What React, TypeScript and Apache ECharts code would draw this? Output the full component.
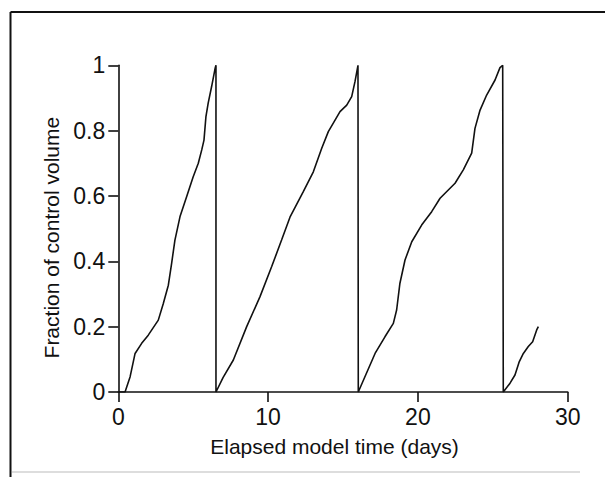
import React, { useEffect, useRef } from "react";
import * as echarts from "echarts";

// Elapsed model time (days) and fraction of control volume
const days: number[] = [
  0, 0.45, 0.79, 1.12, 1.56, 2.0, 2.67, 3.0, 3.34, 3.56, 3.78, 4.12, 4.56, 5.0, 5.34, 5.57, 5.72, 5.85, 6.0, 6.23, 6.46, 6.52, 6.52,
  7.0, 7.68, 8.57, 9.46, 10.24, 10.9, 11.46, 12.35, 13.02, 13.58, 14.02, 14.8, 15.25, 15.58, 15.8, 16.0, 16.02,
  17.14, 17.8, 18.36, 18.58, 18.8, 19.14, 19.59, 20.25, 20.92, 21.48, 22.48, 23.03, 23.59, 23.81, 24.15, 24.59, 25.15, 25.48, 25.66, 25.7,
  26.15, 26.48, 26.77, 27.04, 27.37, 27.66, 27.93, 28.04,
];
const fraction: number[] = [
  0, 0, 0.047, 0.118, 0.149, 0.174, 0.22, 0.27, 0.327, 0.394, 0.465, 0.537, 0.598, 0.659, 0.7, 0.741, 0.771, 0.843, 0.884, 0.935, 0.99, 1.0, 0,
  0.045, 0.098, 0.2, 0.292, 0.384, 0.465, 0.535, 0.613, 0.674, 0.746, 0.797, 0.858, 0.878, 0.904, 0.95, 1.0, 0,
  0.118, 0.169, 0.21, 0.251, 0.333, 0.404, 0.46, 0.511, 0.552, 0.593, 0.639, 0.68, 0.731, 0.807, 0.863, 0.909, 0.955, 0.993, 1.0, 0,
  0.027, 0.052, 0.093, 0.118, 0.139, 0.154, 0.19, 0.2,
];

const xTicks = { min: 0, max: 30, interval: 10 };
const yTicks = { min: 0, max: 1, interval: 0.2 };
const xTitle = "Elapsed model time (days)";
const yTitle = "Fraction of control volume";

const FONT = "'Liberation Sans', Arial, Helvetica, sans-serif";
const INK = "#111111";

export default function App() {
  const ref = useRef<HTMLDivElement>(null);
  useEffect(() => {
    if (!ref.current) return;
    const chart = echarts.init(ref.current, undefined, { renderer: "svg" });
    const data = days.map((d, i) => [d, fraction[i]]);
    chart.setOption({
      animation: false,
      backgroundColor: "#ffffff",
      grid: { left: 118.3, right: 37.3, top: 65.3, bottom: 85, containLabel: false },
      xAxis: {
        type: "value",
        min: xTicks.min,
        max: xTicks.max,
        interval: xTicks.interval,
        name: xTitle,
        nameLocation: "middle",
        nameGap: 44,
        nameTextStyle: { fontFamily: FONT, fontSize: 21, color: INK, padding: [0, 17, 0, 0] },
        axisLine: { show: true, onZero: false, lineStyle: { color: INK, width: 1.6 } },
        axisTick: { show: true, inside: false, length: 10, lineStyle: { color: INK, width: 1.6 } },
        axisLabel: { fontFamily: FONT, fontSize: 23, color: INK, margin: 13 },
        splitLine: { show: false },
      },
      yAxis: {
        type: "value",
        min: yTicks.min,
        max: yTicks.max,
        interval: yTicks.interval,
        name: yTitle,
        nameLocation: "middle",
        nameGap: 54,
        nameRotate: 90,
        nameTextStyle: { fontFamily: FONT, fontSize: 21, color: INK, padding: [0, 18, 0, 0] },
        axisLine: { show: true, onZero: false, lineStyle: { color: INK, width: 1.6 } },
        axisTick: { show: true, inside: false, length: 10, lineStyle: { color: INK, width: 1.6 } },
        axisLabel: { fontFamily: FONT, fontSize: 23, color: INK, margin: 13 },
        splitLine: { show: false },
      },
      series: [
        {
          type: "line",
          data,
          showSymbol: false,
          symbol: "none",
          smooth: false,
          lineStyle: { color: INK, width: 1.6 },
        },
      ],
      graphic: [
        { type: "line", shape: { x1: 10.5, y1: 12, x2: 605, y2: 12 }, style: { stroke: "#111", lineWidth: 2 } },
        { type: "line", shape: { x1: 10.5, y1: 12, x2: 10.5, y2: 477 }, style: { stroke: "#111", lineWidth: 2 } },
        { type: "line", shape: { x1: 12, y1: 472, x2: 580, y2: 472 }, style: { stroke: "#dddddd", lineWidth: 2 } },
      ],
    });
    return () => chart.dispose();
  }, []);
  return (
    <div
      ref={ref}
      style={{ position: "fixed", left: 0, top: 0, width: 605, height: 477, background: "#fff" }}
    />
  );
}
